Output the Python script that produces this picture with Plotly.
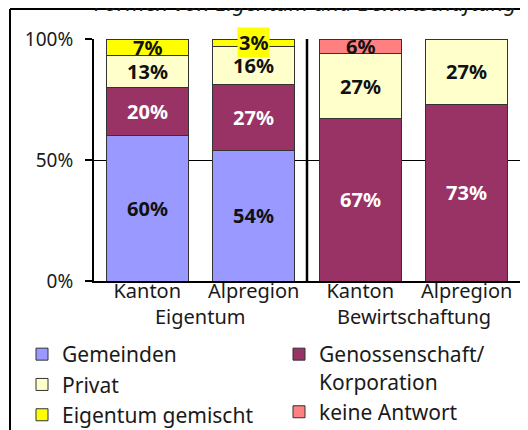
import plotly.graph_objects as go

# ---- data ----
groups = ["Eigentum", "Eigentum", "Bewirtschaftung", "Bewirtschaftung"]
regions = ["Kanton", "Alpregion", "Kanton", "Alpregion"]

gemeinden = [60, 54, None, None]
genossenschaft = [20, 27, 67, 73]
privat = [13, 16, 27, 27]
gemischt = [7, 3, None, None]
keine_antwort = [None, None, 6, None]

series_names = ["Gemeinden", "Genossenschaft/<br>Korporation", "Privat",
                "Eigentum gemischt", "keine Antwort"]
series_values = [gemeinden, genossenschaft, privat, gemischt, keine_antwort]

y_ticks = [0, 50, 100]
y_tick_text = ["0%", "50%", "100%"]
title_text = "Formen von Eigentum und Bewirtschaftung"

# ---- style ----
colors = ["#9999FF", "#993366", "#FFFFCC", "#FFFF00", "#FF8080"]
label_colors = ["#111111", "#FFFFFF", "#111111", "#111111", "#111111"]
legend_ids = ["legend", "legend2", "legend", "legend", "legend2"]
FONT = "Noto Sans"
TXT = "#1a1a1a"

W, H = 528, 430
OFF = 8  # page offset of the figure (body margin)
# plot area in page pixels: x 94..520, y 39..281
ML = 94 - OFF
MT = 39 - OFF
PW, PH = 426, 242
MR = W - ML - PW
MB = H - MT - PH


def px_x(page_px):
    return (page_px - OFF - ML) / PW


def px_y(page_py):
    return (MT + PH - (page_py - OFF)) / PH


x_pos = list(range(len(regions)))

fig = go.Figure()
for name, vals, col, lg in zip(series_names, series_values, colors, legend_ids):
    fig.add_trace(go.Bar(
        x=x_pos, y=vals, name=name, width=0.77,
        marker=dict(color=col, line=dict(color="#333333", width=1)),
        legend=lg, hoverinfo="skip",
    ))

# data labels, centred in each segment
annotations = []
n = len(regions)
base = [0.0] * n
for si, vals in enumerate(series_values):
    for i in range(n):
        v = vals[i]
        if v is None:
            continue
        mid = base[i] + v / 2
        base[i] += v
        bg = colors[si] if (si == 3 and v < 5) else None
        annotations.append(dict(
            x=x_pos[i], y=mid, xref="x", yref="y", text=f"{v}%", showarrow=False,
            font=dict(family=FONT, size=20, color=label_colors[si], weight="bold"),
            bgcolor=bg, borderpad=1,
        ))

# group labels (second level of the category axis)
seen = []
for g in groups:
    if g not in seen:
        seen.append(g)
for g in seen:
    idx = [x_pos[i] for i in range(n) if groups[i] == g]
    annotations.append(dict(
        x=sum(idx) / len(idx), y=px_y(316), xref="x", yref="paper",
        yanchor="middle", text=g, showarrow=False,
        font=dict(family=FONT, size=20, color=TXT),
    ))

# chart title (partly cut off at the top, as in the reference)
annotations.append(dict(
    x=px_x(92), y=px_y(2), xref="paper", yref="paper", xanchor="left",
    yanchor="middle", text=title_text, showarrow=False,
    font=dict(family=FONT, size=22, color=TXT, style="italic"),
))

shapes = [
    # separator between groups
    dict(type="line", xref="paper", yref="paper", x0=0.5, x1=0.5, y0=0, y1=1,
         line=dict(color="black", width=2.5)),
    # outer chart frame (left and top edges)
    dict(type="line", xref="paper", yref="paper",
         x0=px_x(10), x1=px_x(10), y0=px_y(H + 20), y1=px_y(9),
         line=dict(color="black", width=2)),
    dict(type="line", xref="paper", yref="paper",
         x0=px_x(10), x1=px_x(W + 20), y0=px_y(9), y1=px_y(9),
         line=dict(color="black", width=2)),
]

fig.update_layout(
    width=W, height=H,
    margin=dict(l=ML, r=MR, t=MT, b=MB, autoexpand=False),
    paper_bgcolor="white", plot_bgcolor="white",
    barmode="stack",
    font=dict(family=FONT, size=20, color=TXT),
    annotations=annotations,
    shapes=shapes,
    legend=dict(x=(22 - OFF) / W, y=1 - (334 - OFF) / H,
                xref="container", yref="container",
                xanchor="left", yanchor="top", traceorder="normal",
                font=dict(family=FONT, size=21, color=TXT),
                bgcolor="rgba(0,0,0,0)", tracegroupgap=0, valign="top"),
    legend2=dict(x=(279 - OFF) / W, y=1 - (334 - OFF) / H,
                 xref="container", yref="container",
                 xanchor="left", yanchor="top", traceorder="normal",
                 font=dict(family=FONT, size=21, color=TXT),
                 bgcolor="rgba(0,0,0,0)", tracegroupgap=0, valign="top"),
)

fig.update_xaxes(
    range=[-0.5, len(regions) - 0.5], tickvals=x_pos, ticktext=regions,
    showline=True, linecolor="black", linewidth=2,
    ticks="", showgrid=False, zeroline=False,
    ticklabelstandoff=-9,
    tickfont=dict(family=FONT, size=20, color=TXT),
)
fig.update_yaxes(
    range=[0, 100], tickvals=y_ticks, ticktext=y_tick_text,
    showline=True, linecolor="black", linewidth=2, mirror=True,
    ticks="outside", ticklen=7, tickwidth=2, tickcolor="black",
    ticklabelstandoff=8,
    showgrid=True, gridcolor="black", gridwidth=1, zeroline=False,
    tickfont=dict(family=FONT, size=19, color=TXT),
)

fig.write_html("out.html")
